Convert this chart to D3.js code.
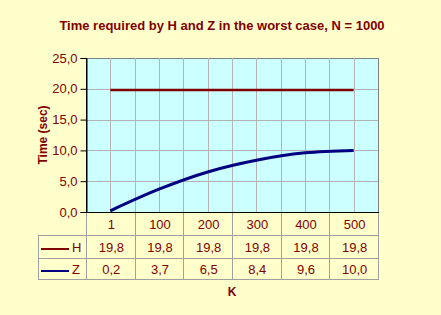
<!DOCTYPE html>
<html>
<head>
<meta charset="utf-8">
<script src="https://cdn.jsdelivr.net/npm/d3@7"></script>
<style>
  body { margin: 0; background: #FFFFCC; }
  svg { display: block; font-family: Arial, "Liberation Sans", sans-serif; }
</style>
</head>
<body>
<svg id="chart" width="441" height="315"></svg>
<script>
const categories = ['1', '100', '200', '300', '400', '500'];
const hValues = [19.8, 19.8, 19.8, 19.8, 19.8, 19.8];
const zValues = [0.2, 3.7, 6.5, 8.4, 9.6, 10.0];
const yTicks = [0, 5, 10, 15, 20, 25];

const plot = { left: 86, right: 378, top: 58, bottom: 212 };
const tableLeft = 38;
const rowEdges = [212, 235, 258, 279];
const darkRed = '#800000';
const navy = '#000080';

const svg = d3.select('#chart');
const fmt = v => d3.format('.1f')(v).replace('.', ',');

svg.append('rect')
    .attr('width', 441).attr('height', 315)
    .attr('fill', '#FFFFCC');

const x = d3.scaleBand()
    .domain(categories)
    .range([plot.left, plot.right]);
const xc = d => x(d) + x.bandwidth() / 2;

const y = d3.scaleLinear()
    .domain([0, 25])
    .range([plot.bottom, plot.top]);

// plot area
svg.append('rect')
    .attr('x', plot.left + 0.5).attr('y', plot.top + 0.5)
    .attr('width', plot.right - plot.left).attr('height', plot.bottom - plot.top)
    .attr('fill', '#CCFFFF')
    .attr('stroke', '#808080');

// horizontal gridlines
svg.append('g')
    .selectAll('line')
    .data(yTicks.slice(1, -1))
    .enter()
    .append('line')
    .attr('x1', plot.left).attr('x2', plot.right)
    .attr('y1', d => Math.round(y(d)) + 0.5).attr('y2', d => Math.round(y(d)) + 0.5)
    .attr('stroke', '#B4B4B4');

// vertical gridlines at category centres and boundaries
var vGrid = [];
categories.forEach((c, i) => {
    vGrid.push(xc(c));
    if (i > 0) vGrid.push(x(c));
});
svg.append('g')
    .selectAll('line')
    .data(vGrid)
    .enter()
    .append('line')
    .attr('x1', d => Math.round(d) + 0.5).attr('x2', d => Math.round(d) + 0.5)
    .attr('y1', plot.top).attr('y2', plot.bottom)
    .attr('stroke', '#B4B4B4');

// y axis
svg.append('g')
    .attr('transform', 'translate(' + (plot.left + 0.5) + ',0)')
    .call(d3.axisLeft(y).tickValues(yTicks).tickSize(6).tickPadding(3).tickFormat(fmt))
    .call(g => g.select('.domain').attr('stroke', '#000'))
    .call(g => g.selectAll('.tick line').attr('stroke', '#000'))
    .call(g => g.selectAll('.tick text')
        .attr('fill', darkRed)
        .style('font-size', '13px')
        .style('font-family', 'Arial, "Liberation Sans", sans-serif'));

// y axis title
svg.append('text')
    .attr('transform', 'translate(47,' + ((plot.top + plot.bottom) / 2) + ') rotate(-90)')
    .attr('text-anchor', 'middle')
    .attr('fill', darkRed)
    .style('font-size', '12px')
    .style('font-weight', 'bold')
    .text('Time (sec)');

// data table grid
const tbl = svg.append('g').attr('stroke', '#A0A0A0').attr('shape-rendering', 'crispEdges');
[rowEdges[1], rowEdges[2], rowEdges[3]].forEach(yy => {
    tbl.append('line')
        .attr('x1', tableLeft).attr('x2', plot.right + 1)
        .attr('y1', yy + 0.5).attr('y2', yy + 0.5);
});
tbl.append('line')
    .attr('x1', tableLeft + 0.5).attr('x2', tableLeft + 0.5)
    .attr('y1', rowEdges[1]).attr('y2', rowEdges[3]);
categories.concat([null]).forEach((c, i) => {
    var xx = c === null ? plot.right : x(c);
    tbl.append('line')
        .attr('x1', Math.round(xx) + 0.5).attr('x2', Math.round(xx) + 0.5)
        .attr('y1', plot.bottom).attr('y2', rowEdges[3]);
});

// category axis line
svg.append('line')
    .attr('x1', plot.left).attr('x2', plot.right + 1)
    .attr('y1', plot.bottom + 0.5).attr('y2', plot.bottom + 0.5)
    .attr('stroke', '#000');
svg.append('line')
    .attr('x1', plot.left + 0.5).attr('x2', plot.left + 0.5)
    .attr('y1', plot.top).attr('y2', plot.bottom)
    .attr('stroke', '#000');

// table text
const rows = [
    { values: categories, mid: 224, raw: true },
    { values: hValues, mid: 247 },
    { values: zValues, mid: 269 }
];
rows.forEach(r => {
    svg.append('g')
        .selectAll('text')
        .data(r.values)
        .enter()
        .append('text')
        .attr('x', (d, i) => xc(categories[i]) + 1)
        .attr('y', r.mid)
        .attr('dy', '0.35em')
        .attr('text-anchor', 'middle')
        .attr('fill', darkRed)
        .style('font-size', '13px')
        .text(d => r.raw ? d : fmt(d));
});

// legend keys in table
const keys = [
    { name: 'H', color: darkRed, mid: 247 },
    { name: 'Z', color: navy, mid: 269 }
];
keys.forEach(k => {
    svg.append('line')
        .attr('x1', 41).attr('x2', 69)
        .attr('y1', k.mid + 2).attr('y2', k.mid + 2)
        .attr('stroke', k.color).attr('stroke-width', 2);
    svg.append('text')
        .attr('x', 72).attr('y', k.mid)
        .attr('dy', '0.35em')
        .attr('fill', darkRed)
        .style('font-size', '13px')
        .text(k.name);
});

// series lines
const lineH = d3.line()
    .x((d, i) => xc(categories[i]))
    .y(d => y(d));
const lineZ = d3.line()
    .x((d, i) => xc(categories[i]))
    .y(d => y(d))
    .curve(d3.curveCardinal);

svg.append('path')
    .attr('d', lineH(hValues))
    .attr('fill', 'none')
    .attr('stroke', darkRed)
    .attr('stroke-width', 2.5);

svg.append('path')
    .attr('d', lineZ(zValues))
    .attr('fill', 'none')
    .attr('stroke', navy)
    .attr('stroke-width', 3);

// x axis title
svg.append('text')
    .attr('x', 232)
    .attr('y', 292)
    .attr('dy', '0.35em')
    .attr('text-anchor', 'middle')
    .attr('fill', darkRed)
    .style('font-size', '12px')
    .style('font-weight', 'bold')
    .text('K');

// chart title
svg.append('text')
    .attr('x', 222)
    .attr('y', 25)
    .attr('dy', '0.35em')
    .attr('text-anchor', 'middle')
    .attr('fill', darkRed)
    .style('font-size', '13px')
    .style('font-weight', 'bold')
    .text('Time required by H and Z in the worst case, N = 1000');
</script>
</body>
</html>
